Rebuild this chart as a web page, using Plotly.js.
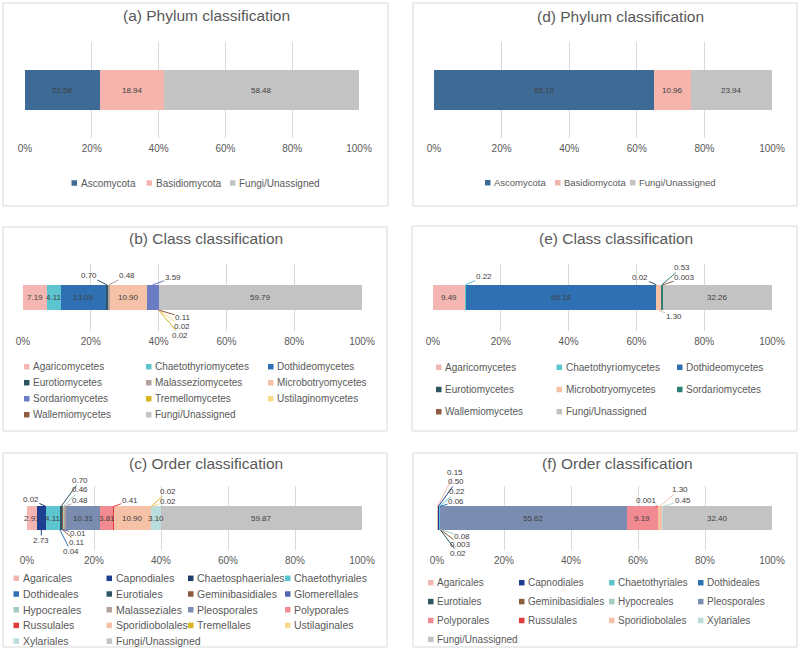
<!DOCTYPE html>
<html>
<head>
<meta charset="utf-8">
<script src="https://cdn.plot.ly/plotly-3.0.1.min.js"></script>
<style>
html, body { margin: 0; padding: 0; background: #fff; }
#plotArea { width: 800px; height: 659px; }
</style>
</head>
<body>
<div id="plotArea"></div>
<script>
// ---- data (percent of reads) ----
var phylumNames = ["Ascomycota", "Basidiomycota", "Fungi/Unassigned"];
var phylumA = [22.58, 18.94, 58.48];
var phylumD = [65.10, 10.96, 23.94];
var phylumColors = ["#3d6b96", "#f5b4ac", "#c3c3c3"];

var classNamesB = ["Agaricomycetes", "Chaetothyriomycetes", "Dothideomycetes", "Eurotiomycetes", "Malasseziomycetes",
    "Microbotryomycetes", "Sordariomycetes", "Tremellomycetes", "Ustilaginomycetes", "Wallemiomycetes", "Fungi/Unassigned"];
var classB = [7.19, 4.11, 13.09, 0.70, 0.48, 10.90, 3.59, 0.02, 0.02, 0.11, 59.79];
var classColorsB = ["#f4b6b2", "#5cc5d0", "#2f70b2", "#2e5662", "#b3a29c", "#f5c2a8", "#6a7cc4", "#d9b520", "#f7d98a", "#8d5b3e", "#c3c3c3"];

var classNamesE = ["Agaricomycetes", "Chaetothyriomycetes", "Dothideomycetes", "Eurotiomycetes",
    "Microbotryomycetes", "Sordariomycetes", "Wallemiomycetes", "Fungi/Unassigned"];
var classE = [9.49, 0.22, 56.18, 0.02, 1.30, 0.53, 0.003, 32.26];
var classColorsE = ["#f4b6b2", "#5cc5d0", "#2f70b2", "#2e5662", "#f5c2a8", "#2b8078", "#8d5b3e", "#c3c3c3"];

var orderNamesC = ["Agaricales", "Capnodiales", "Chaetosphaeriales", "Chaetothyriales", "Dothideales", "Eurotiales",
    "Geminibasidiales", "Glomerellales", "Hypocreales", "Malasseziales", "Pleosporales", "Polyporales",
    "Russulales", "Sporidiobolales", "Tremellales", "Ustilaginales", "Xylariales", "Fungi/Unassigned"];
var orderC = [2.91, 2.73, 0.02, 4.11, 0.04, 0.70, 0.11, 0.01, 0.46, 0.48, 10.31, 3.81, 0.41, 10.90, 0.02, 0.02, 3.10, 59.87];
var orderColorsC = ["#f4b6b2", "#1e3f91", "#1d3c6a", "#5cc5d0", "#2f70b2", "#2e5662", "#8d5b3e", "#5567b0", "#a3ccc3",
    "#b3a29c", "#7a8db0", "#f28a92", "#e03c3c", "#f5c2a8", "#d9b520", "#f7d98a", "#b9dddd", "#c3c3c3"];

var orderNamesF = ["Agaricales", "Capnodiales", "Chaetothyriales", "Dothideales", "Eurotiales", "Geminibasidiales",
    "Hypocreales", "Pleosporales", "Polyporales", "Russulales", "Sporidiobolales", "Xylariales", "Fungi/Unassigned"];
var orderF = [0.15, 0.50, 0.22, 0.06, 0.02, 0.003, 0.08, 55.62, 9.19, 0.001, 1.30, 0.45, 32.40];
var orderColorsF = ["#f4b6b2", "#1e3f91", "#5cc5d0", "#2f70b2", "#2e5662", "#8d5b3e", "#a3ccc3", "#7a8db0",
    "#f28a92", "#e03c3c", "#f5c2a8", "#b9dddd", "#c3c3c3"];

// ---- label placement: null = inside the bar, [ax, ay] = leader-line offset in px ----
var placeA = [null, null, null];
var placeD = [null, null, null];
var placeB = [null, null, null, [-18, -9], [18, -9], null, [20, -7], [21, 25], [23, 16], [24, 7], null];
var placeE = [null, [18, -8], null, [-16, -7], [15, 6], [20, -17], [22, -7], null];
var placeC = [null, [0, 11], [-15, -7], null, [11, 22], [19, -26], [15, 13], [15, 4], [17, -17], [15, -6],
    null, null, [16, -6], null, [17, -15], [17, -5], null, null];
var placeF = [[18, -34], [18, -25], [17, -15], [16, -5], [18, 24], [20, 15], [22, 7], null, null, [-11, -6],
    [20, -17], [20, -6], null];

var W = 800, H = 659;
var FONT = "Liberation Sans, Arial, Helvetica, sans-serif";

var panels = [
    {title: "(a) Phylum classification", names: phylumNames, vals: phylumA, colors: phylumColors, place: placeA,
     box: [3, 3, 388, 206], tx: 206, ty: 16, px: [25, 359], py: [42, 138], bw: 0.417,
     leg: {cols: [71.5, 146.5, 230], y0: 183, dy: 16, size: 10}},
    {title: "(b) Class classification", names: classNamesB, vals: classB, colors: classColorsB, place: placeB,
     box: [3, 227, 387, 431], tx: 206, ty: 238, px: [23, 362], py: [264, 331], bw: 0.38,
     leg: {cols: [24, 146, 268], y0: 366.7, dy: 16, size: 10}},
    {title: "(c) Order classification", names: orderNamesC, vals: orderC, colors: orderColorsC, place: placeC,
     box: [3, 453, 387, 647], tx: 206, ty: 463, px: [27, 362], py: [486, 550], bw: 0.36,
     leg: {cols: [13.5, 106.5, 188, 285], y0: 578.3, dy: 15.7, size: 10.5}},
    {title: "(d) Phylum classification", names: phylumNames, vals: phylumD, colors: phylumColors, place: placeD,
     box: [413, 3, 797, 206], tx: 620, ty: 17, px: [434, 772], py: [42, 138], bw: 0.417,
     leg: {cols: [485, 555, 630], y0: 182.7, dy: 16, size: 9.5}},
    {title: "(e) Class classification", names: classNamesE, vals: classE, colors: classColorsE, place: placeE,
     box: [412, 226, 797, 431], tx: 616, ty: 238, px: [433, 772], py: [264, 331], bw: 0.38,
     leg: {cols: [436, 556.5, 677], y0: 367.3, dy: 22.2, size: 10}},
    {title: "(f) Order classification", names: orderNamesF, vals: orderF, colors: orderColorsF, place: placeF,
     box: [413, 453, 797, 647], tx: 617, ty: 463, px: [437, 772], py: [486, 550], bw: 0.36,
     leg: {cols: [428, 519, 609, 698], y0: 582.7, dy: 18.9, size: 10}}
];

function fmt(v) { return v < 0.01 ? v.toFixed(3) : v.toFixed(2); }

var data = [], annotations = [], shapes = [];
var layout = {
    width: W, height: H,
    margin: {l: 0, r: 0, t: 0, b: 0},
    paper_bgcolor: "#ffffff",
    plot_bgcolor: "rgba(0,0,0,0)",
    barmode: "stack",
    showlegend: false,
    font: {family: FONT, color: "#595959"}
};
var labelFont = {family: FONT, size: 8, color: "#404040"};

panels.forEach(function(p, k) {
    var n = k + 1;
    var xa = n > 1 ? "x" + n : "x", ya = n > 1 ? "y" + n : "y";
    layout[n > 1 ? "xaxis" + n : "xaxis"] = {
        domain: [p.px[0] / W, p.px[1] / W], anchor: ya,
        range: [0, 100], tick0: 0, dtick: 20, ticksuffix: "%",
        showgrid: true, gridcolor: "#d9d9d9", gridwidth: 1,
        zeroline: false, showline: false, ticks: "", ticklabelstandoff: 3,
        tickfont: {family: FONT, size: 10, color: "#595959"}, fixedrange: true
    };
    layout[n > 1 ? "yaxis" + n : "yaxis"] = {
        domain: [1 - p.py[1] / H, 1 - p.py[0] / H], anchor: xa,
        range: [-0.5, 0.5], visible: false, fixedrange: true
    };

    var cum = 0;
    p.names.forEach(function(name, i) {
        var v = p.vals[i];
        data.push({
            type: "bar", orientation: "h", x: [v], y: [0], name: name,
            xaxis: xa, yaxis: ya, width: p.bw,
            marker: {color: p.colors[i]},
            hovertemplate: name + ": %{x}%<extra></extra>"
        });
        var mid = cum + v / 2;
        cum += v;
        var pl = p.place[i];
        if (!pl) {
            annotations.push({xref: xa, yref: ya, x: mid, y: 0, text: fmt(v), showarrow: false, font: labelFont});
        } else {
            annotations.push({
                xref: xa, yref: ya, x: mid, y: pl[1] < 0 ? p.bw / 2 : -p.bw / 2,
                ax: pl[0], ay: pl[1], text: fmt(v), showarrow: true,
                arrowhead: 0, arrowwidth: 1, arrowcolor: p.colors[i], standoff: 0, startstandoff: 0,
                borderpad: 0, font: labelFont
            });
        }

        // legend entry
        var ncol = p.leg.cols.length;
        var lx = p.leg.cols[i % ncol], ly = p.leg.y0 + Math.floor(i / ncol) * p.leg.dy;
        shapes.push({
            type: "rect", xref: "paper", yref: "paper",
            x0: lx / W, x1: (lx + 5.5) / W, y0: 1 - (ly + 2.75) / H, y1: 1 - (ly - 2.75) / H,
            fillcolor: p.colors[i], line: {width: 0}
        });
        annotations.push({
            xref: "paper", yref: "paper", x: (lx + 7) / W, y: 1 - ly / H,
            xanchor: "left", yanchor: "middle", showarrow: false, text: name,
            font: {family: FONT, size: p.leg.size, color: "#595959"}
        });
    });

    // panel frame and title
    shapes.push({
        type: "rect", xref: "paper", yref: "paper", layer: "below",
        x0: p.box[0] / W, x1: p.box[2] / W, y0: 1 - p.box[3] / H, y1: 1 - p.box[1] / H,
        line: {color: "#d9d9d9", width: 1}, fillcolor: "rgba(0,0,0,0)"
    });
    annotations.push({
        xref: "paper", yref: "paper", x: p.tx / W, y: 1 - p.ty / H,
        xanchor: "center", yanchor: "middle", showarrow: false, text: p.title,
        font: {family: FONT, size: 15.5, color: "#595959"}
    });
});

layout.annotations = annotations;
layout.shapes = shapes;

Plotly.newPlot("plotArea", data, layout, {displayModeBar: false, staticPlot: true});
</script>
</body>
</html>
